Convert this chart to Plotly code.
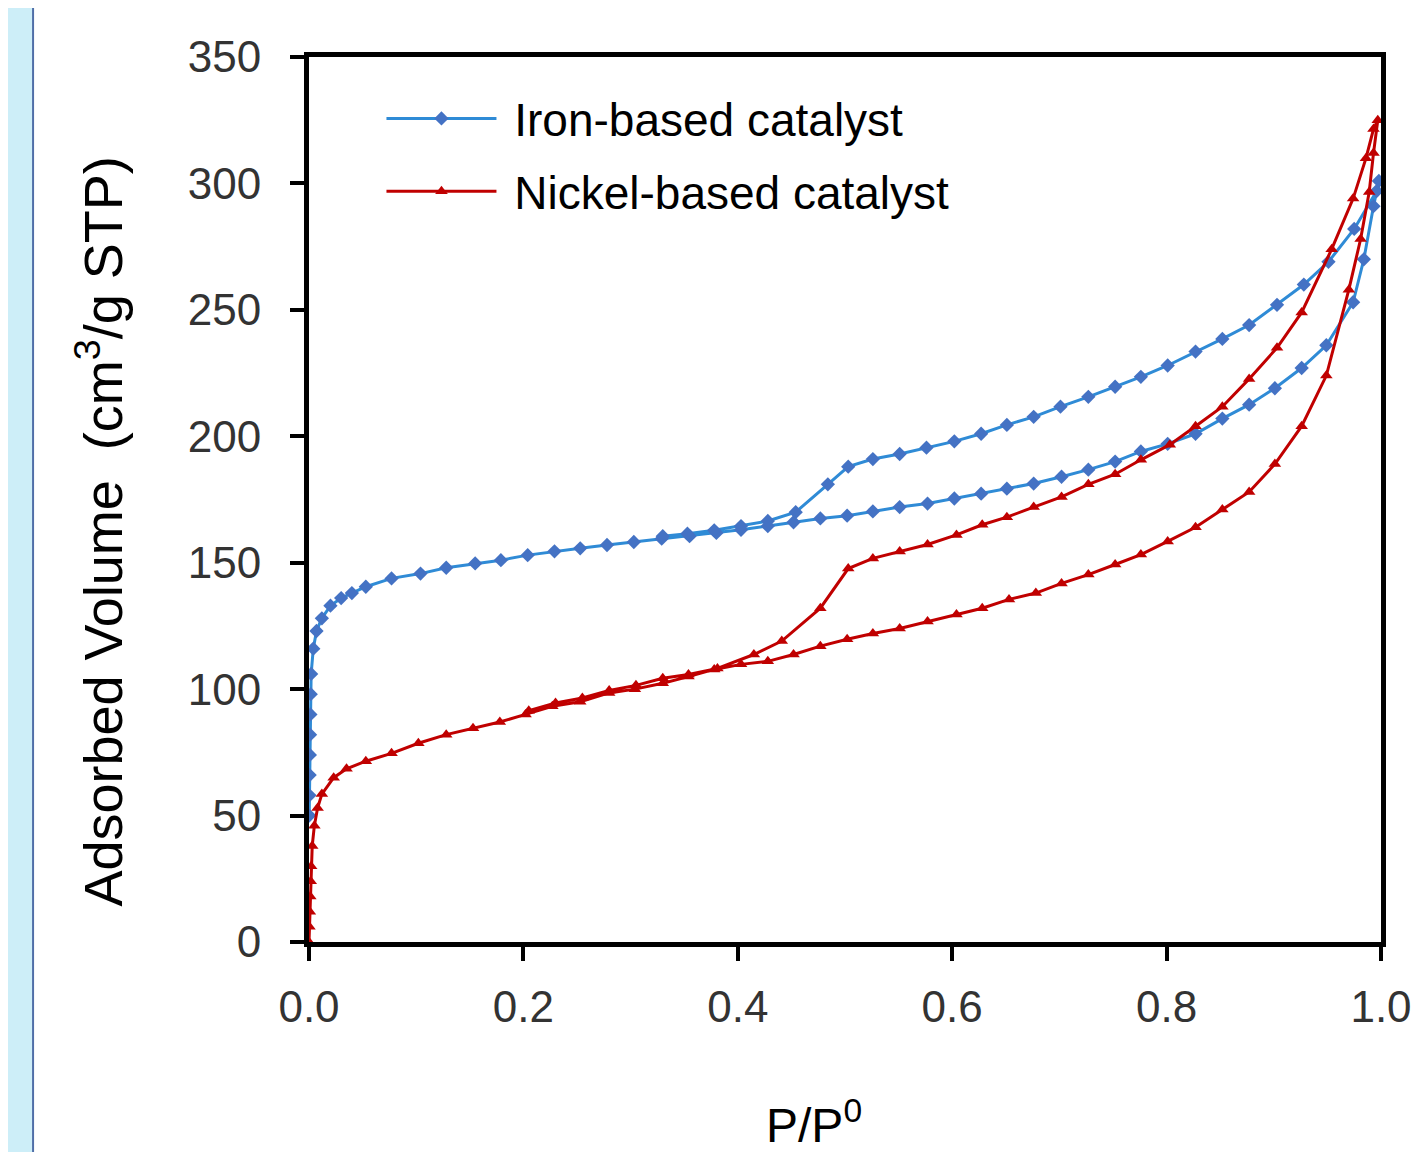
import plotly.graph_objects as go

# ---------------- data ----------------
iron_ads_x = [0.0002, 0.0004, 0.0006, 0.0008, 0.001, 0.0013, 0.0016, 0.002, 0.004, 0.007,
              0.012, 0.02, 0.03, 0.04, 0.053, 0.077, 0.104, 0.128, 0.155, 0.179,
              0.204, 0.229, 0.253, 0.278, 0.303, 0.329, 0.355, 0.38, 0.403, 0.428,
              0.452, 0.477, 0.502, 0.526, 0.551, 0.577, 0.602, 0.627, 0.651, 0.676,
              0.702, 0.727, 0.752, 0.776, 0.801, 0.827, 0.852, 0.877, 0.901, 0.926,
              0.949, 0.974, 0.984, 0.993, 0.998]
iron_ads_y = [50, 58, 66, 74, 82, 90, 98, 106, 116, 123,
              128, 133, 136, 138, 140.5, 143.8, 145.7, 148, 149.7, 151,
              153, 154.5, 155.7, 157, 158.2, 159.5, 160.5, 161.8, 163, 164.5,
              166, 167.5, 168.6, 170.3, 172, 173.4, 175.4, 177.3, 179.3, 181.3,
              184, 186.8, 190, 194, 197, 201, 207, 212.5, 219, 227,
              236, 253, 270, 291, 301]
iron_des_x = [0.996, 0.975, 0.951, 0.928, 0.903, 0.877, 0.852, 0.827, 0.801, 0.776,
              0.752, 0.727, 0.701, 0.676, 0.651, 0.627, 0.602, 0.576, 0.551, 0.526,
              0.503, 0.484, 0.454, 0.428, 0.403, 0.378, 0.353, 0.33]
iron_des_y = [297, 282, 269, 260, 252, 244, 238.5, 233.5, 228, 223.5,
              219.6, 215.6, 211.7, 207.7, 204.5, 201, 198, 195.5, 193, 191,
              188, 181, 170, 166.5, 164.5, 162.8, 161.5, 160.5]

nickel_ads_x = [0.0, 0.0004, 0.0008, 0.0012, 0.0016, 0.002, 0.003, 0.005, 0.008, 0.012,
                0.023, 0.035, 0.053, 0.077, 0.102, 0.128, 0.153, 0.178, 0.202, 0.227,
                0.253, 0.28, 0.304, 0.33, 0.354, 0.378, 0.403, 0.428, 0.452, 0.477,
                0.502, 0.526, 0.551, 0.577, 0.604, 0.628, 0.653, 0.678, 0.702, 0.727,
                0.752, 0.776, 0.801, 0.827, 0.852, 0.877, 0.901, 0.926, 0.949, 0.970,
                0.981, 0.989, 0.993, 0.997]
nickel_ads_y = [0, 6, 12, 18, 24, 30, 38, 46, 53, 58.5,
                65, 68.5, 71.5, 74.6, 78.6, 82, 84.5, 87, 90, 93.2,
                95, 98.5, 100, 102.3, 105, 107.8, 109.8, 111, 113.7, 117,
                119.7, 122, 124, 126.8, 129.5, 132, 135.5, 138, 141.8, 145.3,
                149.3, 153.2, 158.4, 164, 171, 178, 189, 204, 224, 258,
                278, 296.6, 312, 325]
nickel_des_x = [0.993, 0.986, 0.974, 0.954, 0.926, 0.903, 0.877, 0.852, 0.827, 0.803,
                0.776, 0.752, 0.727, 0.702, 0.676, 0.651, 0.628, 0.604, 0.577, 0.551,
                0.526, 0.503, 0.477, 0.441, 0.415, 0.381, 0.354, 0.33, 0.305, 0.28,
                0.255, 0.23, 0.205]
nickel_des_y = [321.5, 310, 294, 274, 249, 235, 222.7, 211.7, 204, 196.7,
                190.7, 185, 181, 176, 172, 168, 165, 161, 157.2, 154.4,
                151.7, 147.7, 132, 119, 113.7, 108.2, 105.8, 104.3, 101.5, 99.5,
                96.5, 94.5, 91.5]

series_names = ["Iron-based catalyst", "Nickel-based catalyst"]
x_ticks = [0.0, 0.2, 0.4, 0.6, 0.8, 1.0]
x_tick_labels = ["0.0", "0.2", "0.4", "0.6", "0.8", "1.0"]
y_ticks = [0, 50, 100, 150, 200, 250, 300, 350]

FONT = "Liberation Sans, Arial, sans-serif"

fig = go.Figure()
fig.add_trace(go.Scatter(
    x=iron_ads_x + iron_des_x, y=iron_ads_y + iron_des_y,
    mode="lines+markers", name=" " + series_names[0], legendgroup="iron",
    line=dict(color="#2F8BD6", width=3),
    marker=dict(symbol="diamond", size=11, color="#4472C4"),
))
fig.add_trace(go.Scatter(
    x=nickel_ads_x + nickel_des_x, y=nickel_ads_y + nickel_des_y,
    mode="lines+markers", name=" " + series_names[1], legendgroup="nickel",
    line=dict(color="#C00000", width=3),
    marker=dict(symbol="triangle-up", size=11, color="#C00000"),
))

# page body adds an 8px offset, so the figure is laid out in shifted coordinates
OFF = 8
W, H = 1424 - OFF, 1152 - OFF
L, R, T, B = 309 - OFF, 1389 - OFF, 57 - OFF, 942 - OFF


def px_x(p):
    return (p - OFF - L) / (R - L)


def px_y(p):
    return (B - (p - OFF)) / (B - T)


fig.update_layout(
    width=W, height=H,
    margin=dict(l=L, r=W - R, t=T, b=H - B),
    paper_bgcolor="white", plot_bgcolor="white",
    font=dict(family=FONT, color="#222222"),
    showlegend=True,
    legend=dict(x=px_x(382), y=px_y(82), xanchor="left", yanchor="top",
                font=dict(size=46, color="black", family=FONT),
                bgcolor="rgba(0,0,0,0)", itemwidth=110,
                tracegroupgap=10, traceorder="grouped"),
    xaxis=dict(range=[0, 1], tickvals=x_ticks, ticktext=x_tick_labels,
               showgrid=False, zeroline=False, showline=True, linecolor="black",
               linewidth=5, mirror=True, ticks="outside", ticklen=14, tickwidth=4,
               tickcolor="black", tickfont=dict(size=44, color="#333333"),
               ticklabelstandoff=8),
    yaxis=dict(range=[0, 350], tickvals=y_ticks,
               showgrid=False, zeroline=False, showline=True, linecolor="black",
               linewidth=5, mirror=True, ticks="outside", ticklen=14, tickwidth=4,
               tickcolor="black", tickfont=dict(size=44, color="#333333"),
               ticklabelstandoff=20),
    shapes=[
        dict(type="rect", xref="paper", yref="paper",
             x0=px_x(0), x1=px_x(30), y0=px_y(1200), y1=px_y(0),
             fillcolor="#CDEEF8", line=dict(width=0), layer="below"),
        dict(type="line", xref="paper", yref="paper",
             x0=px_x(31), x1=px_x(31), y0=px_y(1200), y1=px_y(0),
             line=dict(color="#4F6FA8", width=2)),
    ],
    annotations=[
        dict(text="Adsorbed Volume  (cm<sup>3</sup>/g STP)", xref="paper", yref="paper",
             x=px_x(98), y=px_y(532), textangle=-90,
             showarrow=False, font=dict(size=54, color="black", family=FONT),
             xanchor="center", yanchor="middle"),
        dict(text="P/P<sup>0</sup>", xref="paper", yref="paper",
             x=px_x(818), y=px_y(1122),
             showarrow=False, font=dict(size=48, color="black", family=FONT),
             xanchor="center", yanchor="middle"),
    ],
)

fig.write_html("out.html")
